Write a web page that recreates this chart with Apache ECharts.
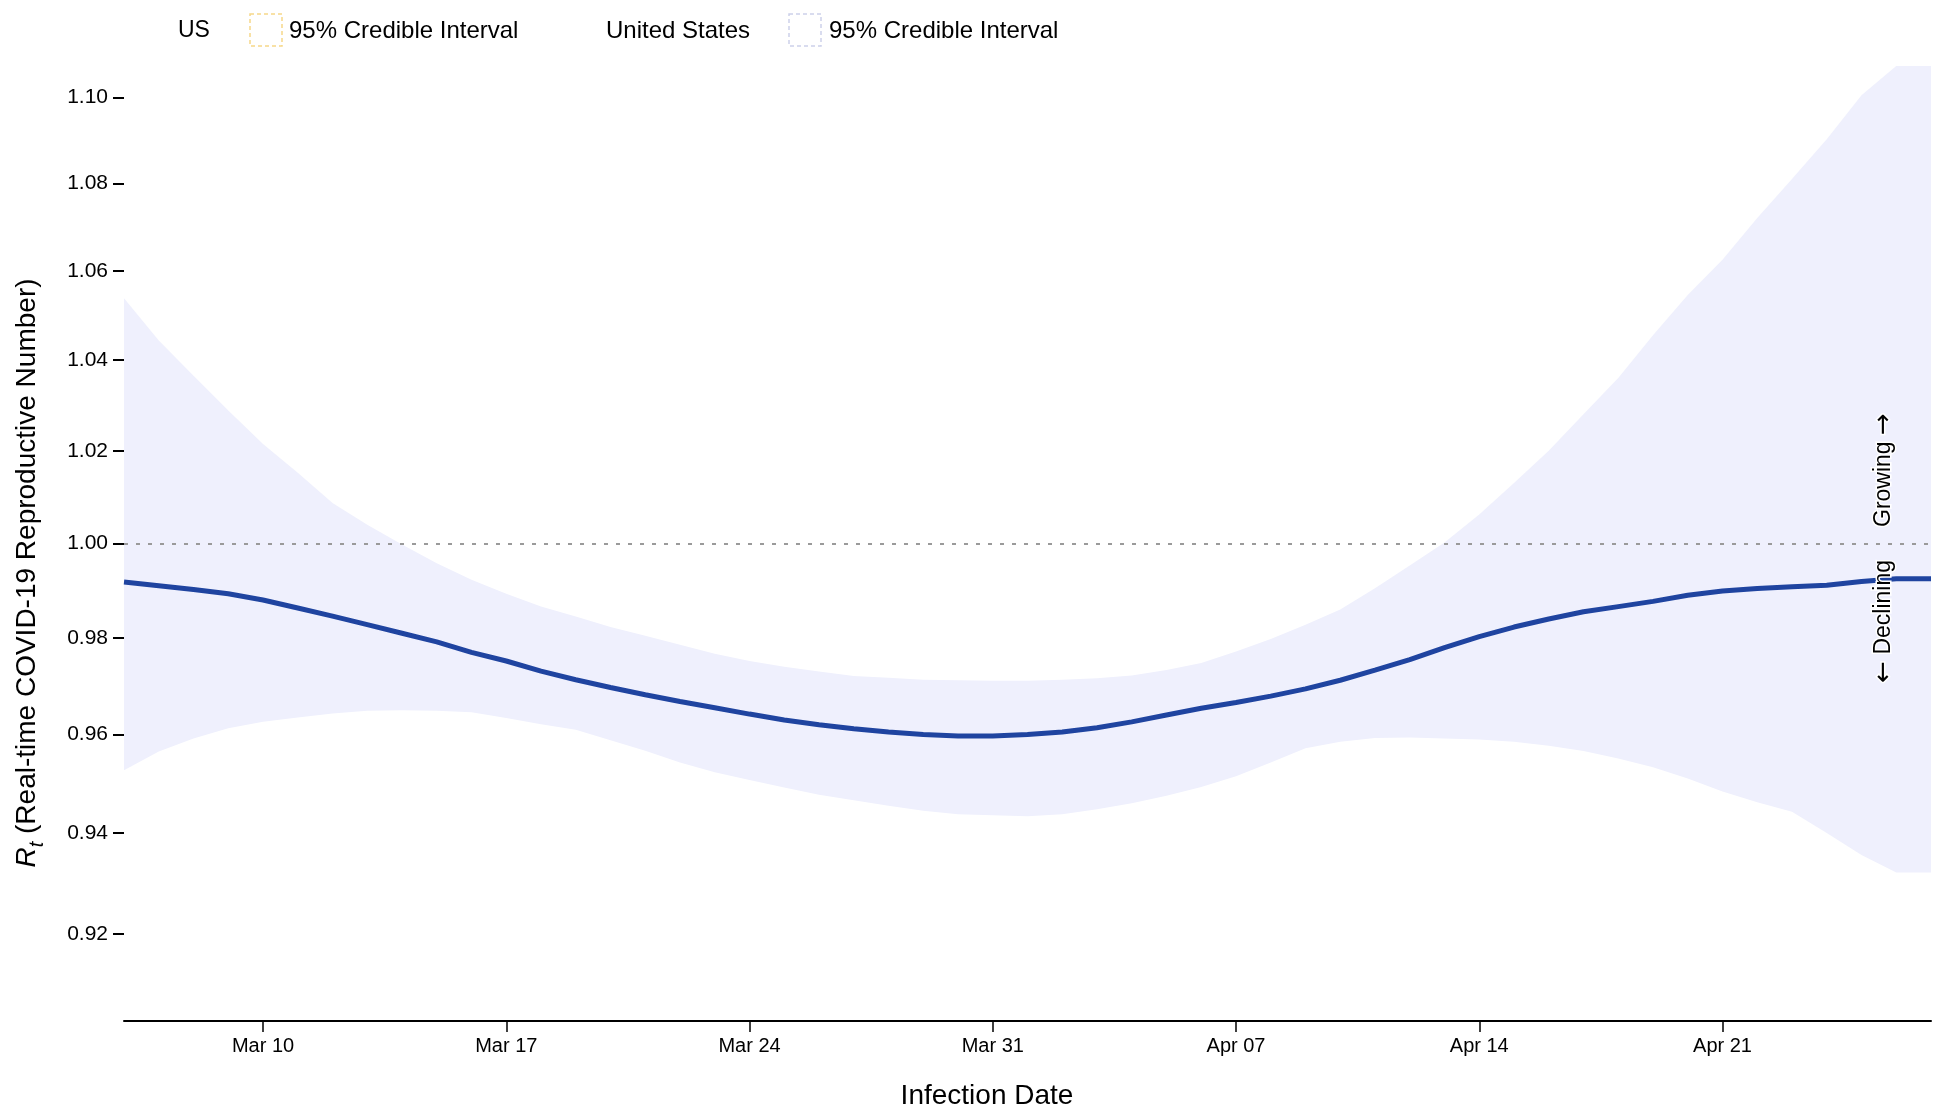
<!DOCTYPE html>
<html>
<head>
<meta charset="utf-8">
<title>Rt - United States</title>
<script src="https://cdn.jsdelivr.net/npm/echarts@6/dist/echarts.min.js"></script>
<style>
  html, body { margin: 0; padding: 0; background: #fff; }
  #chart { width: 1950px; height: 1110px; }
</style>
</head>
<body>
<div id="chart"></div>
<script>
// infection dates, one per day
const dates = [
  '2020-03-06', '2020-03-07', '2020-03-08', '2020-03-09', '2020-03-10', '2020-03-11', '2020-03-12',
  '2020-03-13', '2020-03-14', '2020-03-15', '2020-03-16', '2020-03-17', '2020-03-18', '2020-03-19',
  '2020-03-20', '2020-03-21', '2020-03-22', '2020-03-23', '2020-03-24', '2020-03-25', '2020-03-26',
  '2020-03-27', '2020-03-28', '2020-03-29', '2020-03-30', '2020-03-31', '2020-04-01', '2020-04-02',
  '2020-04-03', '2020-04-04', '2020-04-05', '2020-04-06', '2020-04-07', '2020-04-08', '2020-04-09',
  '2020-04-10', '2020-04-11', '2020-04-12', '2020-04-13', '2020-04-14', '2020-04-15', '2020-04-16',
  '2020-04-17', '2020-04-18', '2020-04-19', '2020-04-20', '2020-04-21', '2020-04-22', '2020-04-23',
  '2020-04-24', '2020-04-25', '2020-04-26', '2020-04-27'
];

// Rt median
const rt = [
  0.9918, 0.9910, 0.9902, 0.9893, 0.9880, 0.9863, 0.9846, 0.9828, 0.9810, 0.9792,
  0.9770, 0.9752, 0.9731, 0.9713, 0.9697, 0.9682, 0.9668, 0.9655, 0.9642, 0.9630,
  0.9620, 0.9612, 0.9605, 0.9600, 0.9597, 0.9597, 0.9600, 0.9605, 0.9614, 0.9626,
  0.9640, 0.9654, 0.9666, 0.9679, 0.9694, 0.9712, 0.9733, 0.9755, 0.9780, 0.9803,
  0.9823, 0.9840, 0.9855, 0.9866, 0.9877, 0.9890, 0.9899, 0.9904, 0.9908, 0.9911,
  0.9919, 0.9925, 0.9925
];

// 95% credible interval
const upper = [
  1.0538, 1.0443, 1.0365, 1.0288, 1.0215, 1.0152, 1.0087, 1.0040, 0.9998, 0.9958,
  0.9923, 0.9893, 0.9866, 0.9845, 0.9823, 0.9805, 0.9786, 0.9767, 0.9752, 0.9740,
  0.9730, 0.9721, 0.9717, 0.9713, 0.9712, 0.9711, 0.9711, 0.9713, 0.9716, 0.9722,
  0.9733, 0.9748, 0.9772, 0.9798, 0.9828, 0.9860, 0.9905, 0.9953, 1.0002, 1.0062,
  1.0130, 1.0200, 1.0280, 1.0360, 1.0455, 1.0545, 1.0625, 1.0720, 1.0810, 1.0902,
  1.1005, 1.1074, 1.1074
];
const lower = [
  0.9527, 0.9565, 0.9592, 0.9613, 0.9626, 0.9635, 0.9643, 0.9649, 0.9650, 0.9649,
  0.9646, 0.9634, 0.9621, 0.9610, 0.9588, 0.9567, 0.9543, 0.9523, 0.9507, 0.9492,
  0.9477, 0.9466, 0.9455, 0.9445, 0.9438, 0.9436, 0.9434, 0.9438, 0.9448, 0.9460,
  0.9475, 0.9493, 0.9515, 0.9543, 0.9572, 0.9585, 0.9593, 0.9594, 0.9592, 0.9590,
  0.9585, 0.9577, 0.9566, 0.9551, 0.9533, 0.9510, 0.9484, 0.9462, 0.9443, 0.9400,
  0.9356, 0.9321, 0.9321
];

// tick labels
const xTicks = ['2020-03-10', '2020-03-17', '2020-03-24', '2020-03-31', '2020-04-07', '2020-04-14', '2020-04-21'];
const yTicks = [0.92, 0.94, 0.96, 0.98, 1.00, 1.02, 1.04, 1.06, 1.08, 1.10];
const months = ['Jan', 'Feb', 'Mar', 'Apr', 'May', 'Jun', 'Jul', 'Aug', 'Sep', 'Oct', 'Nov', 'Dec'];

const FONT = "'Liberation Sans', Arial, Helvetica, sans-serif";
const lineColor = '#1f44a0';
const bandColor = '#eff0fd';

const isTick = (idx, val) => xTicks.indexOf(val) >= 0;

// rotated direction hints, arrow drawn a bit bigger
const hintRich = {
  a: { fontSize: 26, fontFamily: "'DejaVu Sans', sans-serif", fill: '#000' }
};

const chart = echarts.init(document.getElementById('chart'), null, { renderer: 'canvas' });

const option = {
  animation: false,
  backgroundColor: '#fff',
  textStyle: { fontFamily: FONT, color: '#000' },
  grid: { left: 124, right: 19, top: 66, bottom: 89, containLabel: false, outerBoundsMode: 'none' },
  xAxis: {
    type: 'category',
    data: dates,
    boundaryGap: false,
    axisLine: { show: true, onZero: false, lineStyle: { color: '#000', width: 2 } },
    axisTick: { show: true, length: 11, interval: isTick, alignWithLabel: true, lineStyle: { color: '#000', width: 1.5 } },
    axisLabel: {
      interval: isTick,
      margin: 15,
      fontSize: 20,
      fontFamily: FONT,
      color: '#000',
      formatter: function (v) {
        const p = v.split('-');
        return months[Number(p[1]) - 1] + ' ' + p[2];
      }
    },
    splitLine: { show: false }
  },
  yAxis: {
    type: 'log',
    logBase: 10,
    min: 0.903,
    max: 1.1074,
    axisLine: { show: false },
    axisTick: { show: true, length: 11, lineStyle: { color: '#000', width: 2 }, customValues: yTicks },
    axisLabel: {
      customValues: yTicks,
      margin: 16,
      fontSize: 21,
      fontFamily: FONT,
      color: '#000',
      formatter: function (v) { return Number(v).toFixed(2); }
    },
    splitLine: { show: false }
  },
  series: [
    {
      // credible interval band
      type: 'custom',
      z: 1,
      silent: true,
      data: dates.map((d, i) => [i, lower[i], upper[i]]),
      encode: { x: 0, y: [1, 2] },
      renderItem: function (params, api) {
        if (params.dataIndex !== 0) return { type: 'group', children: [] };
        const top = dates.map((d, i) => api.coord([i, upper[i]]));
        const bottom = dates.map((d, i) => api.coord([i, lower[i]])).reverse();
        return {
          type: 'polygon',
          shape: { points: top.concat(bottom) },
          style: { fill: bandColor }
        };
      }
    },
    {
      name: 'United States',
      type: 'line',
      z: 3,
      data: rt,
      showSymbol: false,
      lineStyle: { color: lineColor, width: 5 },
      markLine: {
        silent: true,
        symbol: 'none',
        label: { show: false },
        lineStyle: { type: [4, 8], color: '#9a9a9a', width: 2 },
        data: [{ yAxis: 1 }]
      }
    }
  ],
  graphic: [
    // legend
    { type: 'text', x: 178, y: 31, style: { text: 'US', fontSize: 23, fontFamily: FONT, fill: '#000', align: 'left', verticalAlign: 'middle' } },
    { type: 'rect', shape: { x: 250, y: 14, width: 32, height: 32 }, style: { fill: 'none', stroke: '#f6d889', lineWidth: 1.5, lineDash: [4, 3] } },
    { type: 'text', x: 289, y: 31, style: { text: '95% Credible Interval', fontSize: 24, fontFamily: FONT, fill: '#000', align: 'left', verticalAlign: 'middle' } },
    { type: 'text', x: 606, y: 31, style: { text: 'United States', fontSize: 24, fontFamily: FONT, fill: '#000', align: 'left', verticalAlign: 'middle' } },
    { type: 'rect', shape: { x: 789, y: 14, width: 32, height: 32 }, style: { fill: 'none', stroke: '#cdd1ea', lineWidth: 1.5, lineDash: [4, 3] } },
    { type: 'text', x: 829, y: 31, style: { text: '95% Credible Interval', fontSize: 24, fontFamily: FONT, fill: '#000', align: 'left', verticalAlign: 'middle' } },
    // axis names
    { type: 'text', x: 987, y: 1096, style: { text: 'Infection Date', fontSize: 28, fontFamily: FONT, fill: '#000', align: 'center', verticalAlign: 'middle' } },
    {
      type: 'text', x: 27, y: 573, rotation: Math.PI / 2,
      style: {
        text: '{r|R}{t|t} (Real-time COVID-19 Reproductive Number)',
        fontSize: 28, fontFamily: FONT, fill: '#000', align: 'center', verticalAlign: 'middle', lineHeight: 40,
        rich: {
          r: { fontSize: 28, fontStyle: 'italic', fontFamily: FONT },
          t: { fontSize: 20, fontStyle: 'italic', fontFamily: FONT, verticalAlign: 'bottom', lineHeight: 24 }
        }
      }
    },
    // growing / declining markers
    {
      type: 'text', x: 1884, y: 527, rotation: Math.PI / 2, z: 10,
      style: { text: 'Growing {a|\u2192}', rich: hintRich, fontSize: 23, fontFamily: FONT, fill: '#000', stroke: '#fff', lineWidth: 3, strokeFirst: true, align: 'left', verticalAlign: 'middle' }
    },
    {
      type: 'text', x: 1884, y: 560, rotation: Math.PI / 2, z: 10,
      style: { text: '{a|\u2190} Declining', rich: hintRich, fontSize: 23, fontFamily: FONT, fill: '#000', stroke: '#fff', lineWidth: 3, strokeFirst: true, align: 'right', verticalAlign: 'middle' }
    }
  ]
};

chart.setOption(option);
</script>
</body>
</html>
